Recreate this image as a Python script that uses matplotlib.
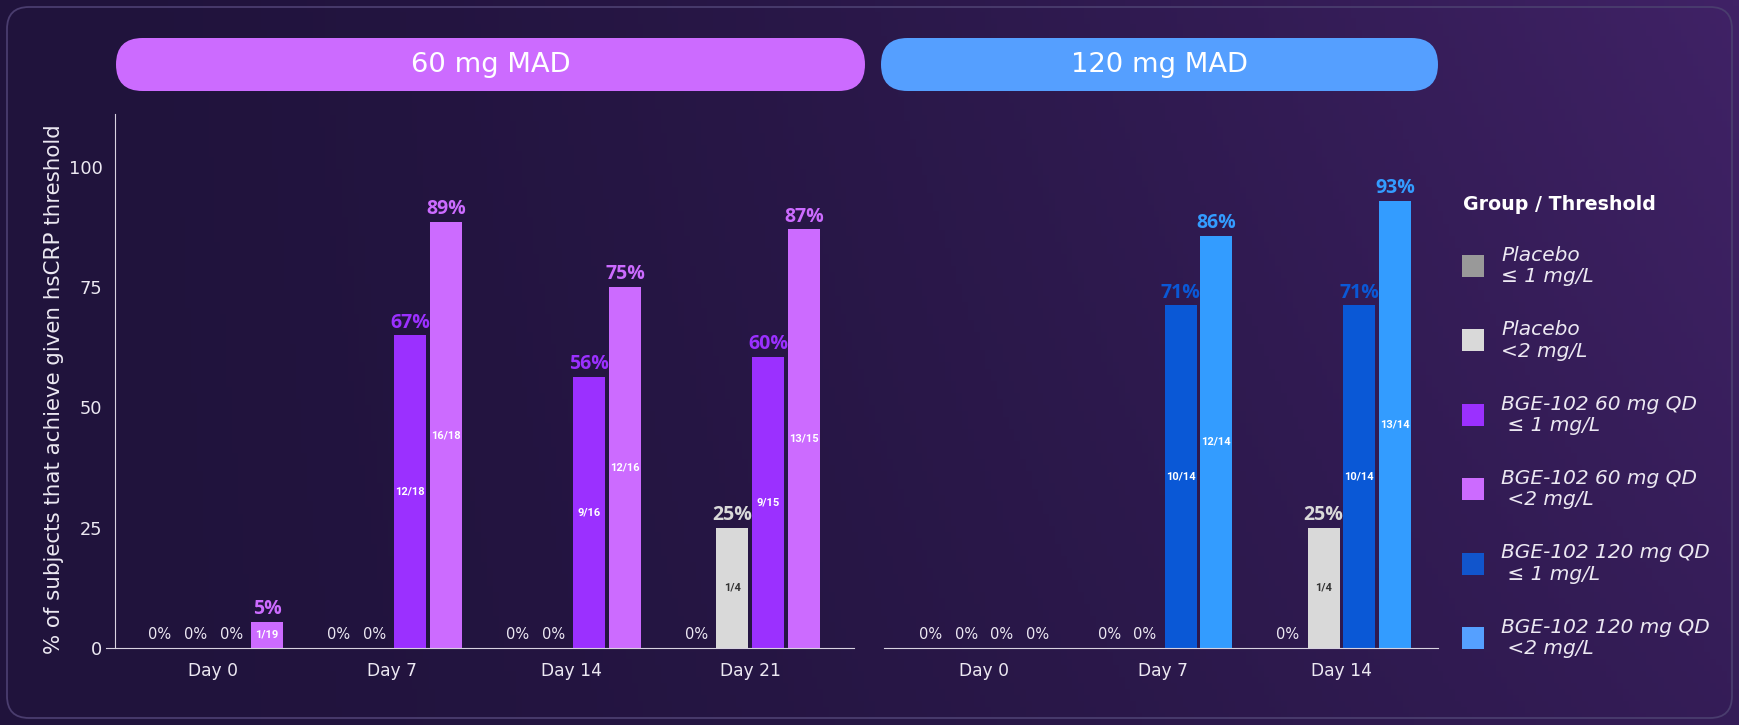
import numpy as np
import matplotlib.pyplot as plt
from matplotlib.patches import FancyBboxPatch, Rectangle

plt.rcParams['font.family'] = ['DejaVu Sans']

# ---- data ----
days_60 = ['Day 0', 'Day 7', 'Day 14', 'Day 21']
days_120 = ['Day 0', 'Day 7', 'Day 14']

series_names = ['Placebo\n≤ 1 mg/L', 'Placebo\n<2 mg/L',
                'BGE-102 60 mg QD\n ≤ 1 mg/L', 'BGE-102 60 mg QD\n <2 mg/L',
                'BGE-102 120 mg QD\n ≤ 1 mg/L', 'BGE-102 120 mg QD\n <2 mg/L']

# 60 mg panel, one list per series (Day 0, 7, 14, 21)
placebo_le1_60 = [0, 0, 0, 0]
placebo_lt2_60 = [0, 0, 0, 25]
bge60_le1 = [0, 65, 56.3, 60.5]
bge60_lt2 = [5.5, 88.5, 75, 87]
pct_placebo_le1_60 = ['0%', '0%', '0%', '0%']
pct_placebo_lt2_60 = ['0%', '0%', '0%', '25%']
pct_bge60_le1 = ['0%', '67%', '56%', '60%']
pct_bge60_lt2 = ['5%', '89%', '75%', '87%']
frac_placebo_lt2_60 = ['', '', '', '1/4']
frac_bge60_le1 = ['', '12/18', '9/16', '9/15']
frac_bge60_lt2 = ['1/19', '16/18', '12/16', '13/15']

# 120 mg panel (Day 0, 7, 14)
placebo_le1_120 = [0, 0, 0]
placebo_lt2_120 = [0, 0, 25]
bge120_le1 = [0, 71.2, 71.2]
bge120_lt2 = [0, 85.7, 92.9]
pct_placebo_le1_120 = ['0%', '0%', '0%']
pct_placebo_lt2_120 = ['0%', '0%', '25%']
pct_bge120_le1 = ['0%', '71%', '71%']
pct_bge120_lt2 = ['0%', '86%', '93%']
frac_placebo_lt2_120 = ['', '', '1/4']
frac_bge120_le1 = ['', '10/14', '10/14']
frac_bge120_lt2 = ['', '12/14', '13/14']

# ---- style ----
c_pl1, c_pl2 = '#999999', '#d9d9d9'
c_60a, c_60b = '#9b30ff', '#cc6bff'
c_120a, c_120b = '#0a58d6', '#339cff'
legend_colors = ['#999999', '#d9d9d9', '#9b30ff', '#cc6bff', '#1155cc', '#55a0ff']
txt = '#ece8f2'

W, H = 1739, 725
fig = plt.figure(figsize=(W / 100, H / 100), dpi=100)
fig.patch.set_facecolor('#1f1238')

# background gradient
bg = fig.add_axes([0, 0, 1, 1], zorder=-10)
gx = np.linspace(0, 1, 300)[None, :]
gy = np.linspace(0, 1, 120)[:, None]
t = np.clip(gx ** 1.6 * (1 - 0.35 * gy), 0, 1)
left = np.array([0x20, 0x13, 0x3c]) / 255
right = np.array([0x40, 0x22, 0x66]) / 255
img = left[None, None, :] + (right - left)[None, None, :] * t[:, :, None]
bg.imshow(img, aspect='auto', extent=[0, 1, 0, 1], origin='upper')
bg.axis('off')


def px(x, y):
    return x / 100, (H - y) / 100


# panel border
x0, y0 = px(7, 718)
fig.patches.append(FancyBboxPatch((x0, y0), (1732 - 7) / 100, (718 - 7) / 100,
                                  boxstyle='round,pad=0,rounding_size=0.22',
                                  transform=fig.dpi_scale_trans, facecolor='none',
                                  edgecolor='#4a3d6e', linewidth=1.3))

# header pills
for (xa, xb, label, col) in [(116, 865, '60 mg MAD', '#cc6bff'), (881, 1438, '120 mg MAD', '#559fff')]:
    x0, y0 = px(xa, 91)
    fig.patches.append(FancyBboxPatch((x0, y0), (xb - xa) / 100, 0.53,
                                      boxstyle='round,pad=0,rounding_size=0.265',
                                      transform=fig.dpi_scale_trans, facecolor=col,
                                      edgecolor='none'))
    fig.text((xa + xb) / 2 / W, 1 - 64.5 / H, label, ha='center', va='center',
             color='white', fontsize=19.7)

bot = (H - 648) / H
hgt = 534 / H
ax1 = fig.add_axes([106 / W, bot, 748 / W, hgt])
ax2 = fig.add_axes([884 / W, bot, 554 / W, hgt])

width = 0.18
step = 0.2


def draw(ax, days, vals, cols, pcts, fracs, frac_cols):
    xs = np.arange(len(days))
    for j, (v, c, p, f, fc) in enumerate(zip(vals, cols, pcts, fracs, frac_cols)):
        pos = xs + (j - 1.5) * step
        ax.bar(pos, v, width, color=c, edgecolor='none')
        for x, vi, pi, fi in zip(pos, v, p, f):
            if vi == 0:
                ax.annotate(pi, (x, 0), xytext=(0, 4), textcoords='offset points',
                            ha='center', va='bottom', color=txt, fontsize=10.5)
            else:
                ax.annotate(pi, (x, vi), xytext=(0, 2), textcoords='offset points',
                            ha='center', va='bottom', color=c, fontsize=14,
                            fontweight='bold', family='Open Sans')
            if fi:
                ax.text(x, vi / 2, fi, ha='center', va='center', color=fc,
                        fontsize=8, fontweight='bold', family='Roboto')
    ax.set_xticks(xs)
    ax.set_xticklabels(days)
    ax.set_ylim(0, 111)
    ax.set_facecolor('none')
    for s in ['top', 'right']:
        ax.spines[s].set_visible(False)
    ax.spines['bottom'].set_color('#d8d2e0')
    ax.spines['left'].set_color('#d8d2e0')
    ax.tick_params(axis='x', length=0, pad=10, colors=txt, labelsize=12.3)
    ax.tick_params(axis='y', length=0, pad=9, colors=txt, labelsize=12.8)


draw(ax1, days_60,
     [placebo_le1_60, placebo_lt2_60, bge60_le1, bge60_lt2],
     [c_pl1, c_pl2, c_60a, c_60b],
     [pct_placebo_le1_60, pct_placebo_lt2_60, pct_bge60_le1, pct_bge60_lt2],
     [['', '', '', ''], frac_placebo_lt2_60, frac_bge60_le1, frac_bge60_lt2],
     ['white', '#333333', 'white', 'white'])
ax1.set_xlim(-0.6, 3.58)
ax1.spines['left'].set_position(('data', -0.55))
ax1.set_yticks([0, 25, 50, 75, 100])
ax1.set_ylabel('% of subjects that achieve given hsCRP threshold', color=txt, fontsize=15.4)
ax1.yaxis.set_label_coords(-0.056, 0.485)

draw(ax2, days_120,
     [placebo_le1_120, placebo_lt2_120, bge120_le1, bge120_lt2],
     [c_pl1, c_pl2, c_120a, c_120b],
     [pct_placebo_le1_120, pct_placebo_lt2_120, pct_bge120_le1, pct_bge120_lt2],
     [['', '', ''], frac_placebo_lt2_120, frac_bge120_le1, frac_bge120_lt2],
     ['white', '#333333', 'white', 'white'])
ax2.set_xlim(-0.56, 2.54)
ax2.spines['left'].set_visible(False)
ax2.set_yticks([])

# legend
fig.text(1463 / W, 1 - 204 / H, 'Group / Threshold', ha='left', va='center',
         color='white', fontsize=13.7, fontweight='bold')
for k, (name, col) in enumerate(zip(series_names, legend_colors)):
    yc = 266 + 74.4 * k
    x0, y0 = px(1462, yc + 11)
    fig.patches.append(Rectangle((x0, y0), 0.22, 0.22, transform=fig.dpi_scale_trans,
                                 facecolor=col, edgecolor='none'))
    fig.text(1501 / W, 1 - yc / H, name, ha='left', va='center', color=txt,
             fontsize=14.5, style='italic', linespacing=1.15)

fig.savefig('out.png', dpi=100)
